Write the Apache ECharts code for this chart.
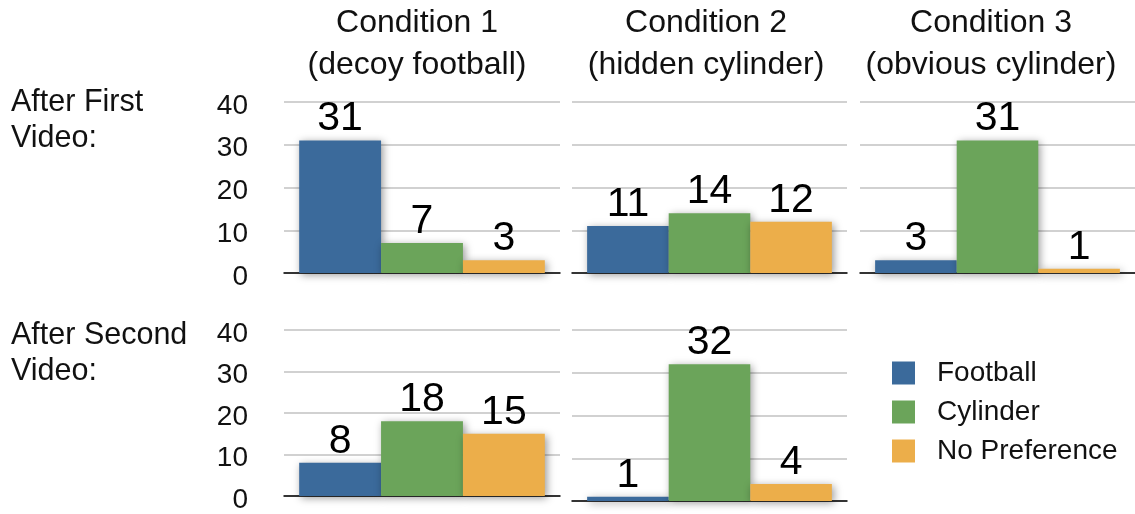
<!DOCTYPE html>
<html>
<head>
<meta charset="utf-8">
<script src="https://cdn.jsdelivr.net/npm/echarts@6/dist/echarts.min.js"></script>
<style>
  html, body { margin: 0; padding: 0; background: #fff; }
  #chart { width: 1135px; height: 514px; }
</style>
</head>
<body>
<div id="chart"></div>
<script>
// Column headings and row headings
const conditions = ['Condition 1\n(decoy football)', 'Condition 2\n(hidden cylinder)', 'Condition 3\n(obvious cylinder)'];
const rowLabels = ['After First\nVideo:', 'After Second\nVideo:'];
const seriesNames = ['Football', 'Cylinder', 'No Preference'];

// Counts per panel: [C1 first, C2 first, C3 first, C1 second, C2 second]
const football = [31, 11, 3, 8, 1];
const cylinder = [7, 14, 31, 18, 32];
const noPreference = [3, 12, 1, 15, 4];

// Value axis
const yMin = 0, yMax = 40, yStep = 10;

// Panel placement: which row/column each panel occupies
const panelRow = [0, 0, 0, 1, 1];
const panelCol = [0, 1, 2, 0, 1];

const colors = ['#3b6a9b', '#6ba45a', '#ecae4a'];
const FONT = '"Liberation Sans", Arial, Helvetica, sans-serif';
const colLeft = [284, 572, 860];
const colWidth = [276, 275, 275];
const rowTop = [102, 330];
const panelHeight = 171;
const titleCenter = [417, 706, 991];

const seriesValues = [football, cylinder, noPreference];

const grids = [], xAxes = [], yAxes = [], series = [];
panelRow.forEach((r, i) => {
  const c = panelCol[i];
  grids.push({ left: colLeft[c], top: rowTop[r], width: colWidth[c], height: panelHeight, containLabel: false });
  xAxes.push({
    type: 'category', gridIndex: i, data: [''],
    axisLine: { show: true, lineStyle: { color: '#000', width: 1.5 } },
    axisTick: { show: false }, axisLabel: { show: false }, splitLine: { show: false }
  });
  yAxes.push({
    type: 'value', gridIndex: i, min: yMin, max: yMax, interval: yStep,
    axisLine: { show: false }, axisTick: { show: false },
    axisLabel: {
      show: c === 0, margin: 36,
      formatter: v => '{t|' + v + '}',
      rich: { t: { color: '#111', fontSize: 28, fontFamily: FONT, padding: [8, 0, 0, 0] } }
    },
    splitLine: { show: true, lineStyle: { color: '#c2c2c2', width: 1.5 } }
  });
  seriesNames.forEach((name, s) => {
    series.push({
      name: name, type: 'bar', xAxisIndex: i, yAxisIndex: i,
      data: [seriesValues[s][i]],
      barGap: '0%', barCategoryGap: '11%',
      itemStyle: {
        color: colors[s],
        shadowColor: 'rgba(0,0,0,0.4)', shadowBlur: 8, shadowOffsetX: 2, shadowOffsetY: 2
      },
      label: {
        show: true, position: 'top', distance: 1,
        color: '#000', fontSize: 41, fontFamily: FONT
      },
      emphasis: { disabled: true },
      animation: false
    });
  });
});

const graphics = [];
conditions.forEach((t, c) => {
  graphics.push({
    type: 'text', x: titleCenter[c], y: 2,
    style: { text: t, textAlign: 'center', textVerticalAlign: 'top', font: '32px ' + FONT, lineHeight: 42, fill: '#111' }
  });
});
const rowLabelTop = [85, 318];
rowLabels.forEach((t, r) => {
  graphics.push({
    type: 'text', x: 11, y: rowLabelTop[r],
    style: { text: t, textAlign: 'left', textVerticalAlign: 'top', font: '30.5px ' + FONT, lineHeight: 36, fill: '#111' }
  });
});

const chart = echarts.init(document.getElementById('chart'), null, { renderer: 'canvas' });
chart.setOption({
  animation: false,
  backgroundColor: '#fff',
  grid: grids,
  xAxis: xAxes,
  yAxis: yAxes,
  series: series,
  legend: {
    data: seriesNames,
    orient: 'vertical', left: 887, top: 354,
    icon: 'rect', itemWidth: 23, itemHeight: 23, itemGap: 11,
    selectedMode: false,
    itemStyle: { shadowBlur: 0, shadowOffsetX: 0, shadowOffsetY: 0, shadowColor: 'transparent' },
    textStyle: { fontSize: 28, fontFamily: FONT, color: '#111', lineHeight: 23, padding: [0, 0, 0, 17] }
  },
  graphic: graphics
});
</script>
</body>
</html>
